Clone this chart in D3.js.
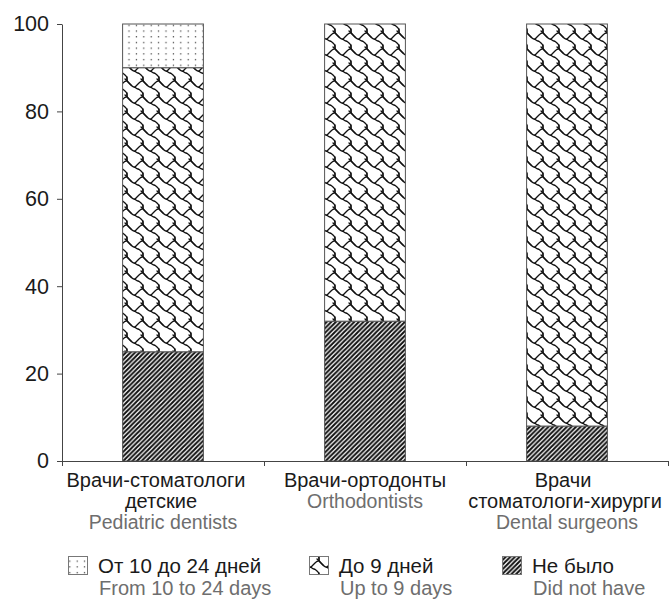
<!DOCTYPE html>
<html>
<head>
<meta charset="utf-8">
<script src="https://cdn.jsdelivr.net/npm/d3@7"></script>
<style>
  html, body { margin: 0; padding: 0; background: #fff; }
  svg { display: block; font-family: "Liberation Sans", Arial, sans-serif; }
</style>
</head>
<body>
<svg id="chart" width="670" height="599"></svg>
<script>
// ---- data ----
const categories = ["pediatric", "orthodontists", "surgeons"];
const categoryLabelsRu = [["Врачи-стоматологи", "детские"], ["Врачи-ортодонты"], ["Врачи", "стоматологи-хирурги"]];
const categoryLabelsEn = ["Pediatric dentists", "Orthodontists", "Dental surgeons"];
const seriesKeys = ["none", "upTo9", "from10to24"];          // stacked bottom -> top
const seriesLabelsRu = ["Не было", "До 9 дней", "От 10 до 24 дней"];
const seriesLabelsEn = ["Did not have", "Up to 9 days", "From 10 to 24 days"];
const valuesNone = [25, 32, 8];
const valuesUpTo9 = [65, 68, 92];
const valuesFrom10to24 = [10, 0, 0];
const yTicks = [0, 20, 40, 60, 80, 100];

// ---- setup ----
const W = 670, H = 599;
const m = { left: 62, right: 2, top: 24, bottom: 138 };
const svg = d3.select("#chart");
const defs = svg.append("defs");

function addText(g, x, y, txt, size, fill, anchor) {
  return g.append("text").attr("x", x).attr("y", y)
    .attr("text-anchor", anchor || "start")
    .attr("font-size", size).attr("fill", fill).text(txt);
}

// hatch: forward diagonal
const hs = 4.6;
const pHatch = defs.append("pattern").attr("id", "p-none")
  .attr("patternUnits", "userSpaceOnUse").attr("width", hs).attr("height", hs);
pHatch.append("rect").attr("width", hs).attr("height", hs).attr("fill", "#fff");
pHatch.append("path").attr("d", `M${-hs/4},${hs/4} L${hs/4},${-hs/4} M0,${hs} L${hs},0 M${hs*0.75},${hs*1.25} L${hs*1.25},${hs*0.75}`)
  .attr("stroke", "#111").attr("stroke-width", 2);

// shingle pattern (traced from an 8x8 shingle bitmap, scaled x2)
const sc = 2, T = 8 * sc;
const strand = [[-2, -1], [-1, 0], [0, 1], [1, 2], [2, 3], [3, 3], [4, 4], [5, 4], [6, 5], [7, 6], [7, 7], [7, 8], [8, 9], [9, 10]];
const branch = [[3, 3], [4, 2], [5, 1], [6, 0], [7, 0], [7, -1], [7, -2]];
const pSh = defs.append("pattern").attr("id", "p-upTo9")
  .attr("patternUnits", "userSpaceOnUse").attr("width", T).attr("height", T);
pSh.append("rect").attr("width", T).attr("height", T).attr("fill", "#fff");
const offs = [];
for (const dx of [-1, 0, 1]) for (const dy of [-1, 0, 1]) offs.push([dx * T, dy * T]);
const line = d3.line().x(p => p[0] * sc + sc / 2).y(p => p[1] * sc + sc / 2).curve(d3.curveBasis);
offs.forEach(([ox, oy]) => {
  [strand, branch].forEach(pts => {
    pSh.append("path").attr("d", line(pts)).attr("transform", `translate(${ox},${oy})`)
      .attr("fill", "none").attr("stroke", "#111").attr("stroke-width", 1.3)
      .attr("stroke-linejoin", "round").attr("stroke-linecap", "round");
  });
});

// dots pattern
const pDots = defs.append("pattern").attr("id", "p-from10to24")
  .attr("patternUnits", "userSpaceOnUse").attr("width", 7.4).attr("height", 5.7);
pDots.append("rect").attr("width", 7.4).attr("height", 5.7).attr("fill", "#fff");
pDots.append("rect").attr("x", 2.6).attr("y", 2).attr("width", 1.2).attr("height", 1.2).attr("fill", "#333");

// ---- scales ----
const x = d3.scaleBand().domain(categories).range([m.left, W - m.right]).padding(0);
const y = d3.scaleLinear().domain([0, 100]).range([H - m.bottom, m.top]);
const barW = x.bandwidth() * 0.4;

const table = categories.map((c, i) => ({
  cat: c, none: valuesNone[i], upTo9: valuesUpTo9[i], from10to24: valuesFrom10to24[i]
}));
const stack = d3.stack().keys(seriesKeys)(table);

// ---- bars ----
svg.append("g").selectAll("g").data(stack).join("g")
  .attr("fill", d => `url(#p-${d.key})`)
  .selectAll("rect").data(d => d.filter(s => s[1] - s[0] > 0)).join("rect")
  .attr("x", d => x(d.data.cat) + (x.bandwidth() - barW) / 2)
  .attr("y", d => y(d[1]))
  .attr("width", barW)
  .attr("height", d => y(d[0]) - y(d[1]))
  .attr("stroke", "#555").attr("stroke-width", 1);

// ---- y axis ----
const gy = svg.append("g").attr("transform", `translate(${m.left},0)`)
  .call(d3.axisLeft(y).tickValues(yTicks).tickSize(5).tickSizeOuter(0).tickPadding(8));
gy.selectAll("text").attr("font-size", 21.5).attr("fill", "#1a1a1a")
  .attr("font-family", "Liberation Sans, Arial, sans-serif");
gy.selectAll("line, path").attr("stroke", "#444");

// ---- x axis ----
const xb = d3.scaleLinear().domain([0, categories.length]).range([m.left, W - m.right]);
const gx = svg.append("g").attr("transform", `translate(0,${y(0)})`)
  .call(d3.axisBottom(xb).tickValues(d3.range(categories.length + 1)).tickFormat("").tickSize(5).tickSizeOuter(0));
gx.selectAll("line, path").attr("stroke", "#444");

// ---- category labels ----
const lineY0 = y(0) + 26, lineH = 20.8;
const labelShift = [-7, 0, -4];
categories.forEach((c, i) => {
  const cx = x(c) + x.bandwidth() / 2;
  const lines = categoryLabelsRu[i];
  const g = svg.append("g");
  lines.forEach((t, k) => {
    addText(g, cx + (k === 0 ? labelShift[i] : -2), lineY0 + k * lineH, t, 20, "#1a1a1a", "middle");
  });
  addText(g, cx, lineY0 + lines.length * lineH, categoryLabelsEn[i], 19.5, "#6e6e6e", "middle");
});

// ---- legend ----
const legendOrder = [2, 1, 0];
const legendX = [68, 309, 502];
const lg = svg.append("g");
legendOrder.forEach((si, j) => {
  const gx0 = legendX[j];
  lg.append("rect").attr("x", gx0 + 0.5).attr("y", 556.5).attr("width", 19).attr("height", 18)
    .attr("fill", `url(#p-${seriesKeys[si]})`).attr("stroke", "#777").attr("stroke-width", 1);
  addText(lg, gx0 + 30, 573, seriesLabelsRu[si], 20.5, "#1a1a1a");
  addText(lg, gx0 + 31, 595, seriesLabelsEn[si], 20, "#6e6e6e");
});
</script>
</body>
</html>
